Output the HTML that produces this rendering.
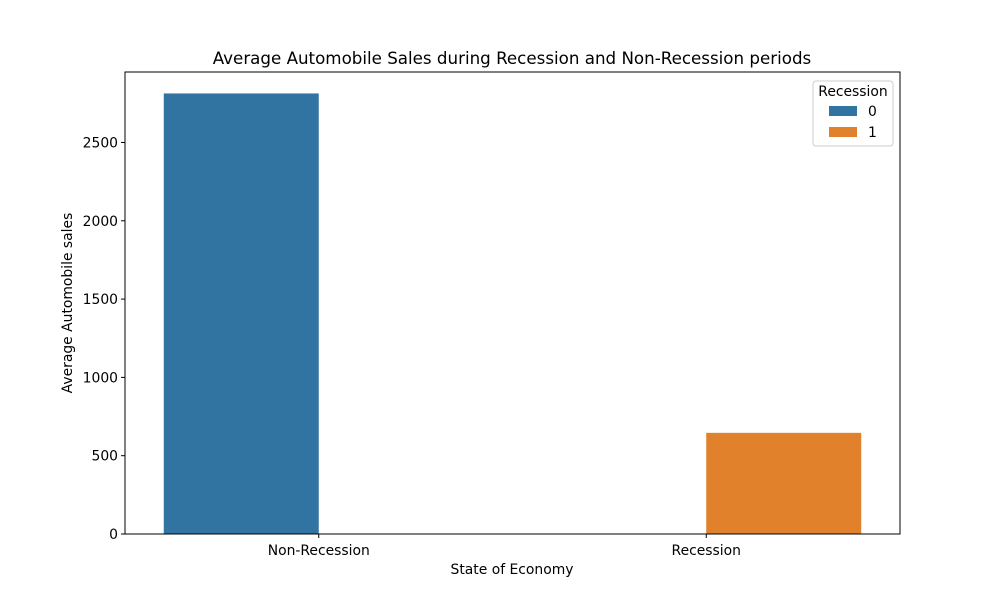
<!DOCTYPE html>
<html><head><meta charset="utf-8"><style>
body{margin:0;background:#fff}
svg{font-family:"DejaVu Sans","Liberation Sans",sans-serif}
</style></head><body>
<svg id="chart" width="1000" height="600">
<text x="512" y="64" font-size="16.7" text-anchor="middle">Average Automobile Sales during Recession and Non-Recession periods</text>
<text x="512" y="574" font-size="13.9" text-anchor="middle">State of Economy</text>
<text transform="translate(72,303) rotate(-90)" font-size="13.9" text-anchor="middle">Average Automobile sales</text>
<g id="marks"></g>
<rect x="125" y="72" width="775" height="462" fill="none" stroke="#000" stroke-width="1"/>
<g>
<rect x="813" y="81" width="80" height="65" rx="3" fill="#fff" stroke="#ccc"/>
<text x="853" y="96" font-size="13.9" text-anchor="middle">Recession</text>
<rect x="829" y="106" width="28" height="10" fill="#3274a1"/>
<text x="868" y="116" font-size="13.9">0</text>
<rect x="829" y="127" width="28" height="10" fill="#e1812c"/>
<text x="868" y="137" font-size="13.9">1</text>
</g>
</svg>
<script>
const categories = ["Non-Recession", "Recession"];
const recession0 = [2813, null];
const recession1 = [null, 646];
const yTicks = [0, 500, 1000, 1500, 2000, 2500];
const colors = ["#3274a1", "#e1812c"];

const NS = "http://www.w3.org/2000/svg";
const g = document.getElementById("marks");
const L = 125, R = 900, T = 72, B = 534;
const yMax = 2950;
const xs = c => L + (c + 0.5) / 2 * (R - L);
const ys = v => B - v / yMax * (B - T);
const unit = (R - L) / 2;
function mk(tag, attrs){const e=document.createElementNS(NS,tag);for(const k in attrs)e.setAttribute(k,attrs[k]);g.appendChild(e);return e;}

[recession0, recession1].forEach((series, si) => {
  series.forEach((v, ci) => {
    if (v == null) return;
    const x0 = xs(ci) + (si - 1) * 0.4 * unit;
    const r = mk("rect", {x: x0, y: ys(v), width: 0.4 * unit, height: B - ys(v), fill: colors[si]});
    
    
  });
});
yTicks.forEach(t => {
  const y = ys(t);
  const l = mk("line", {x1: L - 4, x2: L, y1: y, y2: y, stroke: "#000"});
  
  
  const tx = mk("text", {x: L - 7, y: y + 5, "font-size": 13.9, "text-anchor": "end"});
  tx.textContent = t;
  
  
});
categories.forEach((c, i) => {
  const x = xs(i);
  const l = mk("line", {x1: x, x2: x, y1: B, y2: B + 4, stroke: "#000"});
  
  
  const tx = mk("text", {x: x, y: B + 21, "font-size": 13.9, "text-anchor": "middle"});
  tx.textContent = c;
  
  
});
</script>
</body></html>
